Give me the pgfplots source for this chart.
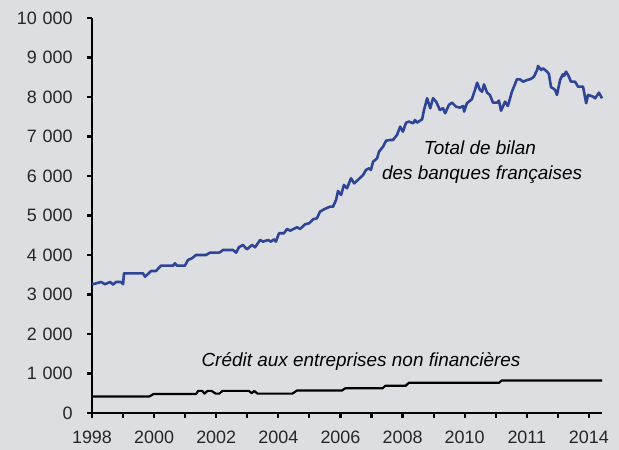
\documentclass[border=0pt]{standalone}
\usepackage{fontspec}
\setmainfont{Liberation Sans}
\usepackage{pgfplots}
\pgfplotsset{compat=1.18}
\definecolor{bg}{RGB}{221,222,225}
\definecolor{bleu}{RGB}{46,68,150}
\newcommand{\ts}{\hspace{0.32em}}
\begin{document}
\begin{tikzpicture}
\fill[bg] (-92bp,-37bp) rectangle (527bp,413bp);
\begin{axis}[
  at={(0,0)}, anchor=south west,
  scale only axis, width=510bp, height=395bp,
  xmin=1998, xmax=2014.42, ymin=0, ymax=10000,
  scaled y ticks=false, scaled x ticks=false,
  axis lines=left,
  axis line style={-, line width=2.2bp, black},
  xtick={1998,...,2014},
  xticklabels={1998,{},2000,{},2002,{},2004,{},2006,{},2008,{},2010,{},2011,{},2014},
  ytick={0,1000,...,10000},
  yticklabels={0,1\ts000,2\ts000,3\ts000,4\ts000,5\ts000,6\ts000,7\ts000,8\ts000,9\ts000,10\ts000},
  tick align=outside, major tick length=5bp,
  tick style={line width=2.2bp, black},
  tick label style={font=\fontsize{18}{18}\selectfont, text=black!85},
  xticklabel style={yshift=-9bp},
  yticklabel style={xshift=-11bp},
  clip=false,
]
\addplot[black, line width=2.2bp, line join=round] coordinates {
(1998.00,420) (1999.85,420) (1999.98,480) (2001.35,480) (2001.42,560) (2001.55,560)
(2001.62,490) (2001.72,560) (2001.85,560) (2001.98,490) (2002.10,490) (2002.20,560)
(2003.05,560) (2003.15,500) (2003.22,560) (2003.33,490) (2004.45,490) (2004.60,570)
(2006.05,570) (2006.15,625) (2007.35,625) (2007.45,690) (2008.10,690) (2008.20,765)
(2011.10,765) (2011.20,825) (2014.42,825)
};
\addplot[bleu, line width=2.6bp, line join=round] coordinates {
(1998.00,3266) (1998.06,3266) (1998.29,3317) (1998.42,3260) (1998.58,3317) (1998.68,3250)
(1998.77,3317) (1998.93,3317) (1999.00,3260) (1999.03,3536) (1999.64,3536) (1999.71,3450)
(1999.90,3595) (2000.06,3595) (2000.22,3730) (2000.61,3730) (2000.67,3790) (2000.74,3730)
(2000.99,3730) (2001.09,3874) (2001.22,3917) (2001.35,4000) (2001.67,4000) (2001.80,4059)
(2002.06,4059) (2002.12,4069) (2002.22,4127) (2002.54,4127) (2002.64,4059) (2002.73,4195)
(2002.86,4254) (2002.99,4144) (2003.15,4254) (2003.25,4195) (2003.41,4380) (2003.51,4338)
(2003.67,4380) (2003.76,4338) (2003.86,4397) (2003.92,4338) (2004.02,4550) (2004.18,4550)
(2004.28,4659) (2004.38,4616) (2004.47,4651) (2004.60,4702) (2004.70,4659) (2004.86,4777)
(2004.99,4803) (2005.12,4904) (2005.24,4929) (2005.34,5096) (2005.47,5157) (2005.66,5223)
(2005.76,5223) (2005.86,5400) (2005.92,5620) (2006.02,5520) (2006.11,5773) (2006.21,5689)
(2006.34,5942) (2006.44,5815) (2006.56,5900) (2006.73,6026) (2006.82,6153) (2006.92,6195)
(2006.98,6153) (2007.05,6363) (2007.18,6448) (2007.24,6616) (2007.37,6743) (2007.47,6895)
(2007.59,6912) (2007.69,6912) (2007.82,7039) (2007.92,7249) (2008.01,7123) (2008.11,7350)
(2008.21,7376) (2008.34,7334) (2008.40,7419) (2008.46,7350) (2008.63,7436) (2008.69,7672)
(2008.79,7968) (2008.89,7715) (2008.98,7968) (2009.08,7883) (2009.20,7672) (2009.30,7715)
(2009.37,7588) (2009.49,7799) (2009.59,7857) (2009.72,7756) (2009.85,7731) (2009.95,7773)
(2009.98,7629) (2010.07,7842) (2010.23,7943) (2010.33,8178) (2010.40,8363) (2010.49,8178)
(2010.56,8135) (2010.62,8320) (2010.72,8110) (2010.81,8052) (2010.91,7857) (2011.04,7857)
(2011.10,7908) (2011.17,7654) (2011.30,7883) (2011.39,7773) (2011.52,8135) (2011.68,8447)
(2011.78,8447) (2011.88,8388) (2012.01,8430) (2012.13,8457) (2012.23,8515) (2012.33,8684)
(2012.36,8786) (2012.46,8684) (2012.52,8727) (2012.65,8642) (2012.71,8583) (2012.78,8247)
(2012.84,8222) (2012.91,8178) (2012.97,8052) (2013.07,8430) (2013.16,8574) (2013.20,8533)
(2013.26,8642) (2013.33,8557) (2013.42,8388) (2013.55,8388) (2013.65,8262) (2013.81,8262)
(2013.91,7842) (2013.97,8052) (2014.13,8010) (2014.20,7968) (2014.32,8110) (2014.42,7968)
};
\node[anchor=base, font=\itshape\fontsize{19}{19}\selectfont] at (axis cs:2010.49,6533) {Total de bilan};
\node[anchor=base, font=\itshape\fontsize{19}{19}\selectfont] at (axis cs:2010.56,5900) {des banques françaises};
\node[anchor=base, font=\itshape\fontsize{19}{19}\selectfont] at (axis cs:2006.66,1165) {Crédit aux entreprises non financières};
\end{axis}
\end{tikzpicture}
\end{document}
